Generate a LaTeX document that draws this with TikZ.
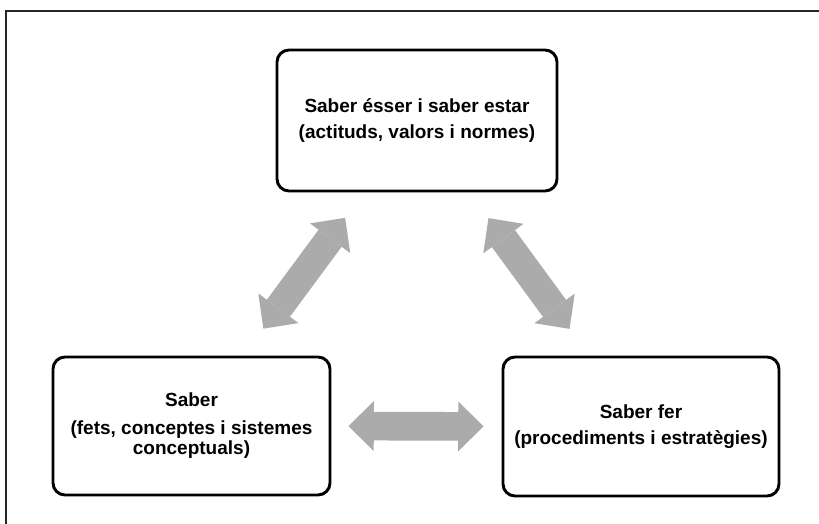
\documentclass[tikz,border=0pt]{standalone}
\usepackage{fontspec}
\setmainfont{Liberation Sans}
\usetikzlibrary{arrows.meta}
\definecolor{arrowgray}{HTML}{ABABAB}

\begin{document}
\begin{tikzpicture}[x=0.75pt,y=-0.75pt,
  box/.style={draw=black,line width=2.2pt,rounded corners=9pt,inner sep=0pt,
    align=center,font=\bfseries\fontsize{14.25}{19.5}\selectfont},
  link/.style={arrowgray,line width=21.5pt,
    {Triangle[length=19pt,width=37.5pt,line width=0pt]}-{Triangle[length=19pt,width=37.5pt,line width=0pt]}}]
\useasboundingbox (0,0) rectangle (819,524);
% outer frame
\draw [line width=1.5pt,black!85] (6,530) -- (6,11) -- (830,11);
% the three boxes
\node [box,minimum width=210pt,minimum height=105.75pt] (top) at (417,120.5)
  {Saber ésser i saber estar\\(actituds, valors i normes)};
\node [box,minimum width=207.75pt,minimum height=103.5pt] (lft) at (191.5,426)
  {Saber\\[1pt](fets, conceptes i sistemes\\[-4pt]conceptuals)};
\node [box,minimum width=207pt,minimum height=104.25pt] (rgt) at (641,426.5)
  {Saber fer\\(procediments i estratègies)};
% block arrows between them
\draw [link,shorten <=90.75pt,shorten >=90.75pt] (top.center) -- (lft.center);
\draw [link,shorten <=90.75pt,shorten >=90.75pt] (top.center) -- (rgt.center);
\draw [link,shorten <=12.75pt,shorten >=13.5pt] (lft.east) -- (rgt.west);
\end{tikzpicture}
\end{document}
